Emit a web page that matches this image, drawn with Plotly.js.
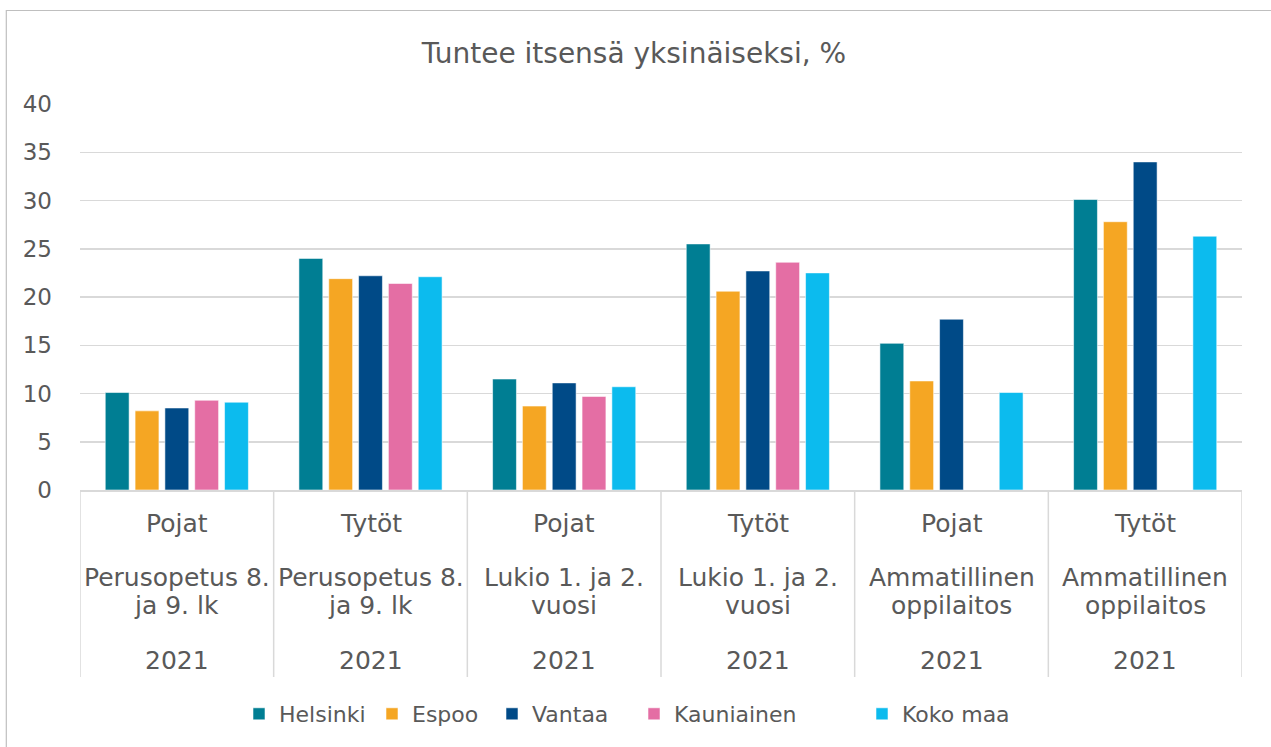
<!DOCTYPE html>
<html>
<head>
<meta charset="utf-8">
<script src="https://cdn.plot.ly/plotly-3.0.1.min.js"></script>
<style>html,body{margin:0;padding:0;background:#fff;}#chart{width:1271px;height:747px;}</style>
</head>
<body>
<div id="chart"></div>
<script>
// ---- data ----
const genders = ['Pojat', 'Tytöt', 'Pojat', 'Tytöt', 'Pojat', 'Tytöt'];
const levelLine1 = ['Perusopetus 8.', 'Perusopetus 8.', 'Lukio 1. ja 2.', 'Lukio 1. ja 2.', 'Ammatillinen', 'Ammatillinen'];
const levelLine2 = ['ja 9. lk', 'ja 9. lk', 'vuosi', 'vuosi', 'oppilaitos', 'oppilaitos'];
const years = ['2021', '2021', '2021', '2021', '2021', '2021'];

const seriesNames = ['Helsinki', 'Espoo', 'Vantaa', 'Kauniainen', 'Koko maa'];
const helsinki   = [10.1, 24.0, 11.5, 25.5, 15.2, 30.1];
const espoo      = [8.2, 21.9, 8.7, 20.6, 11.3, 27.8];
const vantaa     = [8.5, 22.2, 11.1, 22.7, 17.7, 34.0];
const kauniainen = [9.3, 21.4, 9.7, 23.6, null, null];
const kokoMaa    = [9.1, 22.1, 10.7, 22.5, 10.1, 26.3];
const yTicks = [0, 5, 10, 15, 20, 25, 30, 35, 40];

// ---- styles ----
const colors = ['#007E93', '#F5A623', '#004A87', '#E46EA4', '#0CBBEE'];
const textColor = '#595959';
const gridColor = '#D9D9D9';
const font = 'DejaVu Sans, sans-serif';
// legend entry text start positions (pixels)
const legendTextX = [279, 412, 532, 674, 902];

const categories = genders.map((g, i) => g + ' ' + levelLine1[i] + ' ' + levelLine2[i] + ' ' + years[i]);
const values = [helsinki, espoo, vantaa, kauniainen, kokoMaa];

const plotLeft = 80, plotW = 1162;
const plotTop = 104, plotBottom = 490;
const plotH = plotBottom - plotTop;
const py = p => (plotBottom - p) / plotH;
const px = p => (p - plotLeft) / plotW;

const legendKey = k => (k === 0 ? 'legend' : 'legend' + (k + 1));

const traces = seriesNames.map((name, k) => ({
  type: 'bar',
  name: name,
  x: categories,
  y: values[k],
  legend: legendKey(k),
  marker: {color: colors[k], line: {color: 'rgba(255,255,255,0.55)', width: 1}},
  hoverinfo: 'x+y+name'
}));

const annotations = [];
const rows = [[genders, 523], [levelLine1, 577], [levelLine2, 605], [years, 660]];
rows.forEach(([arr, pix]) => {
  arr.forEach((t, i) => {
    annotations.push({
      xref: 'x', yref: 'paper', x: categories[i], y: py(pix),
      text: t, showarrow: false, xanchor: 'center', yanchor: 'middle',
      font: {family: font, size: 25, color: textColor}
    });
  });
});

const shapes = [];
for (let i = 0; i <= categories.length; i++) {
  shapes.push({
    type: 'line', xref: 'x', yref: 'paper',
    x0: i - 0.5, x1: i - 0.5, y0: 0, y1: py(677),
    line: {color: gridColor, width: 1.5}
  });
}
shapes.push({
  type: 'rect', xref: 'paper', yref: 'paper',
  x0: px(6.3), x1: 1.1, y0: -0.8, y1: py(10.5),
  line: {color: '#BFBFBF', width: 1.2}, fillcolor: 'rgba(0,0,0,0)', layer: 'below'
});

const layout = {
  width: 1271, height: 747,
  margin: {l: plotLeft, r: 1271 - plotLeft - plotW, t: plotTop, b: 747 - plotBottom},
  paper_bgcolor: '#FFFFFF', plot_bgcolor: '#FFFFFF',
  font: {family: font, color: textColor},
  title: {
    text: 'Tuntee itsensä yksinäiseksi, %',
    font: {family: font, size: 28, color: textColor},
    x: 634 / 1271, xanchor: 'center', xref: 'container',
    y: 1 - 53 / 747, yanchor: 'middle', yref: 'container'
  },
  barmode: 'group',
  bargap: 0.23,
  bargroupgap: 0.2,
  xaxis: {
    type: 'category',
    showticklabels: false,
    showgrid: false,
    showline: true, linecolor: gridColor, linewidth: 1.5,
    ticks: '', zeroline: false,
    range: [-0.5, categories.length - 0.5]
  },
  yaxis: {
    range: [0, 40],
    tickvals: yTicks,
    ticktext: yTicks.map(String),
    showgrid: true, gridcolor: gridColor, gridwidth: 1.5,
    zeroline: false, showline: false, ticks: '',
    tickfont: {family: font, size: 23, color: textColor},
    ticklabelstandoff: 27
  },
  showlegend: true,
  annotations: annotations,
  shapes: shapes
};

seriesNames.forEach((n, k) => {
  layout[legendKey(k)] = {
    orientation: 'h', x: px(legendTextX[k] - 40), xanchor: 'left',
    y: py(714), yanchor: 'middle',
    font: {family: font, size: 22, color: textColor},
    itemwidth: 30, bgcolor: 'rgba(0,0,0,0)', borderwidth: 0
  };
});

Plotly.newPlot('chart', traces, layout, {displayModeBar: false, staticPlot: true});
</script>
</body>
</html>
